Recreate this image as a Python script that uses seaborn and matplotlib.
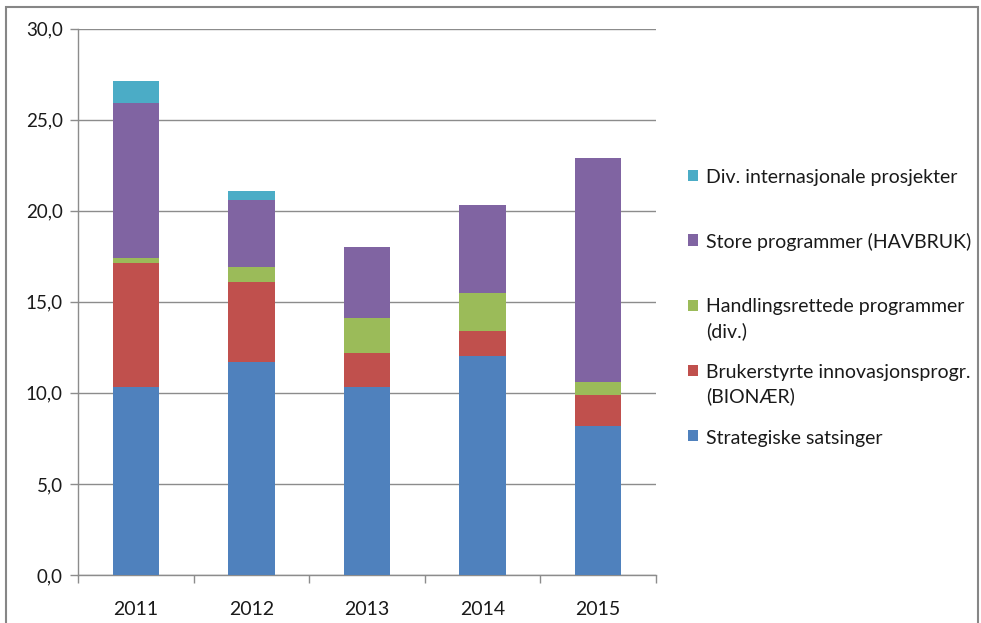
import numpy as np
import pandas as pd
import matplotlib
matplotlib.use("Agg")
import matplotlib.pyplot as plt
from matplotlib.patches import Rectangle, Patch
from matplotlib.legend_handler import HandlerPatch
from matplotlib.ticker import FuncFormatter, FixedLocator
import seaborn as sns

# Data (mill. kr), bottom to top in stack order
years = ["2011", "2012", "2013", "2014", "2015"]
strategiske = [10.3, 11.7, 10.3, 12.0, 8.2]
brukerstyrte = [6.8, 4.4, 1.9, 1.4, 1.7]
handlingsrettede = [0.3, 0.8, 1.9, 2.1, 0.7]
store_programmer = [8.5, 3.7, 3.9, 4.8, 12.3]
internasjonale = [1.2, 0.5, 0.0, 0.0, 0.0]

series_names = [
    "Strategiske satsinger",
    "Brukerstyrte innovasjonsprogr.\n(BIONÆR)",
    "Handlingsrettede programmer\n(div.)",
    "Store programmer (HAVBRUK)",
    "Div. internasjonale prosjekter",
]
colors = ["#4F81BD", "#C0504D", "#9BBB59", "#8064A2", "#4BACC6"]

sns.set_theme(style="white")
plt.rcParams["font.family"] = ["Lato", "DejaVu Sans"]
FS = 14

df = pd.DataFrame({
    "year": years,
    series_names[0]: strategiske,
    series_names[1]: brukerstyrte,
    series_names[2]: handlingsrettede,
    series_names[3]: store_programmer,
    series_names[4]: internasjonale,
})
cum = df[series_names].cumsum(axis=1)

fig = plt.figure(figsize=(9.81, 6.23), dpi=100)
ax = fig.add_axes([78 / 981, 1 - 575 / 623, (656 - 78) / 981, (575 - 28.5) / 623])

# draw cumulative totals from the top down so lower segments cover upper ones
for name, col in reversed(list(zip(series_names, colors))):
    sns.barplot(x=df["year"], y=cum[name], color=col, width=0.4,
                saturation=1, edgecolor="none", ax=ax, zorder=3)

ax.set_ylim(0, 30)
ax.set_xlim(-0.5, 4.5)
ax.set_yticks(np.arange(0, 31, 5))
ax.yaxis.set_major_formatter(FuncFormatter(lambda v, p: f"{v:.1f}".replace(".", ",")))
ax.yaxis.grid(True, color="#8c8c8c", linewidth=1.0, zorder=0)
ax.set_axisbelow(True)
ax.set_xlabel("")
ax.set_ylabel("")

for s in ["top", "right"]:
    ax.spines[s].set_visible(False)
for s in ["left", "bottom"]:
    ax.spines[s].set_color("#8c8c8c")
    ax.spines[s].set_linewidth(1.0)

ax.tick_params(axis="y", which="major", left=True, length=6, width=1, color="#8c8c8c",
               labelsize=13.5, labelcolor="#1a1a1a", pad=5)
ax.tick_params(axis="x", which="major", bottom=False, labelsize=FS,
               labelcolor="#1a1a1a", pad=13)
ax.xaxis.set_minor_locator(FixedLocator(np.arange(-0.5, 5, 1)))
ax.tick_params(axis="x", which="minor", bottom=True, length=6, width=1, color="#8c8c8c")


def top_square(legend, orig_handle, xdescent, ydescent, width, height, fontsize):
    # put the marker next to the first text line, like Excel does
    return Rectangle((-xdescent, -ydescent + 0.72 * fontsize), width, height)


# every entry is two lines tall so the rows are evenly spaced
legend_labels = [n if "\n" in n else n + "\n " for n in series_names[::-1]]
handles = [Patch(facecolor=c, edgecolor="none") for c in colors[::-1]]
leg = fig.legend(handles, legend_labels, loc="upper left",
                 bbox_to_anchor=(688 / 981, 1 - 169 / 623), frameon=False,
                 fontsize=FS, handlelength=0.5, handleheight=0.5,
                 handletextpad=0.45, labelspacing=1.23, borderpad=0, borderaxespad=0,
                 handler_map={Patch: HandlerPatch(patch_func=top_square)})
for t in leg.get_texts():
    t.set_color("#1a1a1a")
    t.set_linespacing(1.45)

# outer frame of the chart area
fig.patches.append(Rectangle((6 / 981, -0.05), 972 / 981, 1.05 - 7 / 623,
                             transform=fig.transFigure, fill=False,
                             edgecolor="#868686", linewidth=1.5))

fig.savefig("out.png", dpi=100)
